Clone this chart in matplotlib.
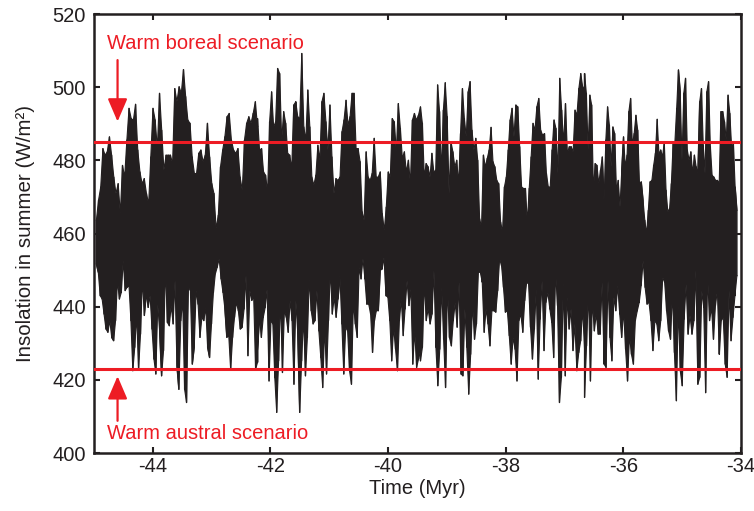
import numpy as np
import matplotlib
matplotlib.use("Agg")
import matplotlib.pyplot as plt

plt.rcParams['font.family'] = ['Liberation Sans', 'DejaVu Sans']
plt.rcParams['axes.unicode_minus'] = False

# time span of each reading segment (Myr)
seg_edges = [-44.96, -42.22, -39.45, -36.66, -34.07]

# upper edge of the insolation band (W/m2), read left to right
upper_1 = [463.6, 469.1, 472.7, 483.2, 481.4, 482.3, 486.4, 481.4, 475.4, 470.9,
           473.6, 465.4, 478.6, 475.4, 485.5, 494.2, 491.4, 491.0, 495.3, 482.8,
           476.8, 473.6, 475.0, 470.9, 468.1, 480.9, 494.2, 491.0, 483.2, 498.3,
           488.2, 477.3, 481.4, 481.4, 481.4, 479.1, 499.6, 496.0, 500.1, 498.3,
           504.8, 497.4, 491.0, 490.1, 480.9, 476.4, 476.4, 481.9, 482.8, 479.6,
           481.4, 490.1, 480.9, 473.6, 470.9, 461.3, 465.0, 478.2, 482.8, 486.4,
           491.9, 492.8, 485.5, 482.8, 481.9, 483.2, 475.4, 471.8, 485.5, 490.1,
           491.9, 490.1, 492.8, 496.0, 489.1]
upper_2 = [491.4, 482.8, 483.2, 476.8, 475.9, 471.3, 490.5, 498.7, 489.1, 490.5,
           505.1, 503.7, 485.5, 493.3, 490.1, 481.9, 481.4, 477.7, 495.1, 496.0,
           491.9, 491.4, 509.2, 489.1, 485.5, 499.2, 489.1, 475.4, 473.2, 475.9,
           484.1, 480.0, 496.0, 498.3, 490.5, 482.8, 495.1, 480.9, 470.9, 475.0,
           474.5, 475.4, 487.8, 491.0, 496.4, 489.6, 491.9, 498.3, 498.3, 483.2,
           483.2, 479.6, 465.9, 463.6, 482.3, 475.4, 474.5, 476.4, 486.0, 475.4,
           475.4, 476.8, 465.4, 460.8, 467.2, 476.8, 475.4, 491.4, 490.5, 482.3,
           495.5, 488.7, 480.5, 482.3, 476.8, 480.0, 473.6, 491.0, 492.8, 491.0,
           492.3, 494.6]
upper_3 = [494.6, 490.1, 475.4, 479.1, 478.2, 475.4, 481.9, 476.8, 477.3, 500.6,
           493.3, 476.4, 493.7, 501.2, 491.9, 470.9, 485.0, 482.3, 478.2, 480.0,
           473.6, 487.3, 499.6, 491.4, 486.4, 498.7, 501.5, 488.2, 482.8, 486.0,
           480.0, 464.0, 461.7, 481.4, 478.2, 480.5, 482.8, 489.0, 479.6, 478.2,
           474.5, 473.6, 463.1, 460.4, 472.7, 475.4, 482.8, 491.0, 494.2, 486.4,
           495.1, 494.6, 483.7, 472.7, 472.3, 472.3, 463.1, 472.3, 480.9, 490.1,
           488.2, 494.6, 496.9, 488.2, 486.9, 487.3, 476.4, 472.7, 472.7, 482.8,
           491.0, 488.7, 476.4, 502.4, 493.7, 484.6, 495.5, 481.9, 483.7, 483.7,
           482.3, 493.7, 492.3, 499.6, 503.7, 500.1, 498.7]
upper_4 = [503.7, 498.3, 482.8, 497.8, 495.1, 471.8, 479.1, 478.6, 473.6, 477.3,
           480.9, 468.6, 485.5, 494.6, 489.6, 478.2, 489.1, 487.3, 471.8, 474.5,
           467.2, 477.3, 486.4, 478.2, 481.4, 493.3, 496.9, 484.1, 487.3, 492.3,
           488.2, 473.6, 474.1, 469.1, 463.6, 459.9, 466.3, 474.1, 474.5, 478.6,
           481.9, 491.2, 481.4, 482.8, 480.9, 485.0, 471.8, 465.9, 466.8, 473.6,
           484.6, 485.0, 494.2, 504.7, 498.7, 480.0, 498.3, 502.4, 482.8, 480.0,
           482.3, 476.4, 481.4, 478.2, 476.4, 496.0, 499.6, 484.1, 476.4, 498.7,
           501.5, 483.7, 475.9, 475.4, 474.5, 474.5, 473.6, 493.3, 493.3, 490.5,
           485.5, 497.8, 492.8, 483.7, 484.6, 472.7, 466.3]

# lower edge of the insolation band (W/m2), read left to right
lower_1 = [451.7, 449.4, 443.0, 442.1, 438.0, 433.9, 433.0, 436.2, 431.6, 430.7,
           436.2, 447.1, 442.1, 443.9, 452.6, 444.4, 445.3, 445.8, 436.2, 422.5,
           428.9, 437.6, 422.9, 432.5, 447.6, 437.6, 443.5, 439.8, 443.0, 433.9,
           425.7, 421.6, 440.7, 433.0, 421.1, 428.0, 450.8, 435.7, 434.8, 440.3,
           435.3, 447.1, 423.8, 417.4, 436.2, 441.7, 417.4, 413.8, 445.3, 444.4,
           424.3, 428.9, 444.4, 440.7, 431.6, 437.1, 436.2, 439.8, 428.9, 426.1,
           435.3, 443.9, 449.0, 450.8, 453.1, 447.6, 443.9, 439.4, 431.6, 432.1,
           422.9, 431.6, 437.1, 441.2, 438.9, 433.9, 434.4, 439.4, 448.5, 426.6,
           444.4, 441.7, 442.6, 422.9, 424.8]
lower_2 = [428.0, 437.1, 431.6, 437.1, 439.8, 444.8, 419.7, 436.2, 435.3, 420.6,
           411.1, 425.2, 442.1, 422.0, 438.9, 437.1, 433.0, 441.7, 436.2, 418.8,
           441.7, 432.5, 411.1, 425.2, 437.1, 421.1, 431.6, 447.6, 438.9, 435.3,
           436.2, 444.4, 433.4, 426.1, 417.9, 434.4, 421.6, 436.2, 450.3, 438.0,
           442.6, 437.1, 442.1, 448.5, 435.3, 421.6, 434.4, 433.4, 422.5, 418.8,
           441.2, 435.3, 431.6, 450.8, 447.6, 453.1, 447.6, 440.7, 440.7, 438.0,
           427.5, 436.2, 438.9, 438.9, 449.9, 450.3, 453.5, 443.0, 442.6, 436.2,
           425.2, 434.4, 428.4, 422.5, 436.2, 442.1, 432.1, 439.4, 447.1, 440.3,
           444.8, 424.3, 433.4, 423.4, 425.7, 428.0]
lower_3 = [425.2, 428.9, 446.7, 436.2, 439.4, 435.3, 438.0, 449.9, 428.9, 418.4,
           428.4, 445.3, 431.1, 417.9, 445.8, 431.6, 429.3, 436.2, 441.2, 434.4,
           446.7, 421.6, 421.1, 439.4, 428.9, 416.1, 427.0, 440.7, 431.1, 435.3,
           449.4, 449.4, 446.7, 433.0, 439.4, 435.3, 429.3, 438.9, 438.9, 438.5,
           444.4, 453.1, 451.2, 445.3, 438.5, 438.9, 432.1, 424.3, 431.6, 428.4,
           419.7, 436.2, 438.0, 433.0, 441.7, 446.7, 446.2, 434.4, 425.7, 433.9,
           444.8, 420.2, 436.6, 447.1, 428.0, 441.2, 443.9, 439.4, 435.7, 426.1,
           449.4, 440.3, 413.8, 420.7, 446.7, 421.1, 442.6, 433.9, 439.4, 428.0,
           435.3, 422.5, 427.5, 430.7, 439.4, 428.4]
lower_4 = [415.2, 429.3, 444.4, 419.7, 441.7, 433.4, 438.0, 432.5, 432.5, 446.7,
           424.3, 423.4, 447.1, 431.6, 425.2, 442.6, 438.9, 445.8, 438.0, 431.6,
           438.9, 428.4, 419.7, 432.1, 427.0, 424.3, 436.2, 438.9, 441.2, 445.8,
           452.6, 445.3, 440.7, 441.2, 436.2, 428.0, 436.2, 435.3, 430.7, 436.2,
           448.0, 446.7, 438.9, 433.4, 431.1, 443.9, 427.5, 414.3, 440.3, 422.5,
           418.4, 436.6, 446.2, 432.5, 437.6, 432.5, 436.2, 449.9, 418.8, 420.7,
           444.4, 439.8, 416.5, 448.5, 436.2, 439.8, 431.1, 440.3, 444.4, 427.0,
           436.2, 437.1, 424.3, 420.7, 444.4, 430.7, 437.1, 443.0, 448.5]

boreal_level = 485
austral_level = 423
boreal_label = "Warm boreal scenario"
austral_label = "Warm austral scenario"

black = "#231f20"
red = "#ed1c24"


def segment_times(segments):
    times = []
    for i, vals in enumerate(segments):
        times.append(np.linspace(seg_edges[i], seg_edges[i + 1], len(vals)))
    return np.concatenate(times)


t_up = segment_times([upper_1, upper_2, upper_3, upper_4])
v_up = np.concatenate([upper_1, upper_2, upper_3, upper_4])
t_lo = segment_times([lower_1, lower_2, lower_3, lower_4])
v_lo = np.concatenate([lower_1, lower_2, lower_3, lower_4])

fig = plt.figure(figsize=(7.54, 5.11), dpi=100)
ax = fig.add_axes([0.1247, 0.1135, 0.8581, 0.8591])

# solid band: upper edge forward, lower edge back
poly_t = np.concatenate([t_up, t_lo[::-1]])
poly_v = np.concatenate([v_up, v_lo[::-1]])
ax.fill(poly_t, poly_v, color=black, lw=0, zorder=2)

# the oscillation itself: all read extremes in time order, joined
t_all = np.concatenate([t_up, t_lo])
v_all = np.concatenate([v_up, v_lo])
order = np.argsort(t_all, kind='stable')
ax.plot(t_all[order], v_all[order], color=black, lw=1.0, zorder=2)
ax.plot(t_up, v_up, color=black, lw=0.8, zorder=2)
ax.plot(t_lo, v_lo, color=black, lw=0.8, zorder=2)

ax.axhline(boreal_level, color=red, lw=2.2, zorder=3)
ax.axhline(austral_level, color=red, lw=2.2, zorder=3)

ax.text(-44.78, 512.0, boreal_label, color=red, fontsize=14.5, va='center', ha='left')
ax.text(-44.78, 405.3, austral_label, color=red, fontsize=14.5, va='center', ha='left')
ax.annotate('', xy=(-44.6, 490.6), xytext=(-44.6, 507.4),
            arrowprops=dict(arrowstyle='-|>,head_length=1.4,head_width=0.6',
                            color=red, lw=1.6, shrinkA=0, shrinkB=0, mutation_scale=10))
ax.annotate('', xy=(-44.6, 421.0), xytext=(-44.6, 408.8),
            arrowprops=dict(arrowstyle='-|>,head_length=1.4,head_width=0.6',
                            color=red, lw=1.6, shrinkA=0, shrinkB=0, mutation_scale=10))

ax.set_xlim(-45, -34)
ax.set_ylim(400, 520)
ax.set_xticks([-44, -42, -40, -38, -36, -34])
ax.set_yticks([400, 420, 440, 460, 480, 500, 520])
ax.tick_params(direction='in', top=True, right=True, length=4, width=1.5,
               labelsize=14.5, colors=black)
ax.tick_params(axis='x', pad=3)
ax.tick_params(axis='y', pad=6)
for s in ax.spines.values():
    s.set_linewidth(1.8)
    s.set_color(black)

ax.set_xlabel("Time (Myr)", fontsize=14.5, color=black, labelpad=2)
ax.set_ylabel("Insolation in summer (W/m\u00b2)", fontsize=14.8, color=black, labelpad=12)

fig.savefig("out.png", dpi=100)
